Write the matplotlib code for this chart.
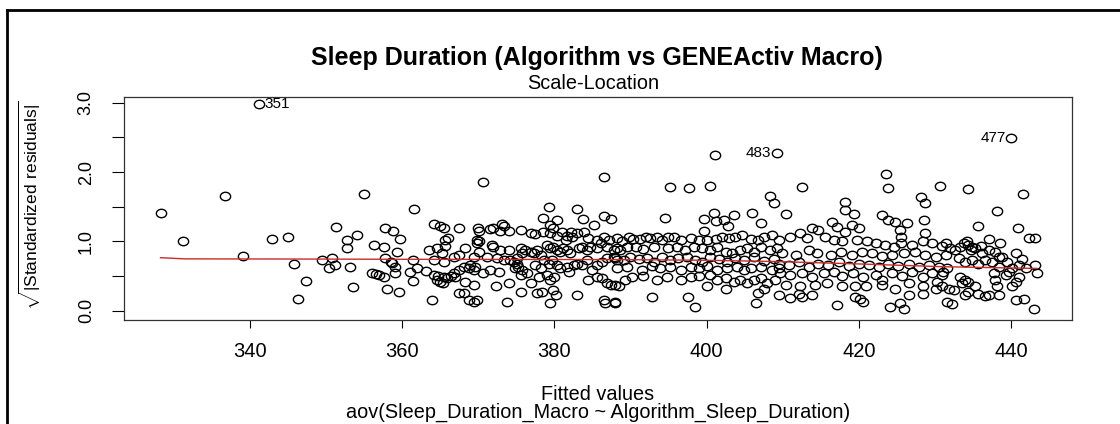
import matplotlib
matplotlib.use("Agg")
import matplotlib.pyplot as plt
from matplotlib.lines import Line2D
from matplotlib.path import Path
from matplotlib.transforms import Affine2D

plt.rcParams['font.family'] = ['Liberation Sans', 'DejaVu Sans']
plt.rcParams['mathtext.fontset'] = 'custom'
plt.rcParams['mathtext.rm'] = 'Liberation Sans'

# fitted values (x) and sqrt(|standardized residuals|) (y), same order
fitted = [
    328.3, 331.3, 336.8, 339.1, 341.2, 342.9, 345.1, 345.8, 347.4, 346.4, 349.5, 350.4, 350.8, 351.2, 351.3,
    352.8, 352.8, 354.1, 353.2, 353.6, 355.0, 356.3, 356.1, 356.6, 357.0, 357.6, 357.8, 358.8, 357.6, 357.8,
    358.5, 358.7, 358.0, 359.1, 359.4, 359.1, 359.6, 359.8,
    361.6, 361.5, 361.1, 361.5, 362.0, 363.1, 364.0, 364.2, 365.0, 365.5, 365.6, 366.1, 365.7, 363.5, 364.6,
    365.3, 364.2, 365.5, 366.8, 367.5, 367.5, 364.2, 364.8, 365.5, 364.6, 365.0, 365.4, 365.9, 366.4, 367.0,
    367.5, 367.5,
    370.6, 386.6, 379.3, 383.0, 378.5, 380.4, 379.4, 379.8, 383.8, 385.2, 386.6, 387.5,
    370.0, 370.1, 371.6, 372.0, 373.1, 373.4, 372.9, 374.1, 375.6, 376.9, 377.5, 378.5, 379.4, 380.4, 381.0,
    381.7, 382.2, 383.0, 383.9, 381.5, 382.3, 384.5, 385.6, 386.6, 387.2, 388.3,
    369.9, 370.1, 369.9, 371.8, 372.0, 368.3, 370.1, 369.4, 371.2, 372.9, 372.5, 373.4, 374.0, 375.6, 376.1,
    375.8, 376.9, 377.3, 377.8, 378.2, 379.1, 379.5, 379.9, 380.4, 380.8, 381.2, 381.7, 382.1, 383.2, 383.7,
    384.3, 384.7, 385.6, 386.1, 386.9, 387.8, 388.3,
    368.1, 368.8, 369.0, 369.4, 369.6, 366.8, 368.3, 369.4, 368.1, 368.8, 369.4, 369.9, 370.7, 371.6, 372.7,
    372.3, 374.0, 375.1, 374.9, 375.3, 375.8, 375.6, 376.4, 373.8, 375.6, 376.9, 377.5, 378.2, 378.6, 379.3,
    379.7, 380.4, 378.0, 379.1, 379.5, 380.0, 377.7, 378.4, 379.9, 380.2, 379.5, 380.8, 381.7, 381.9, 382.6,
    383.0, 383.0, 383.7, 384.3, 385.0, 385.6, 386.3, 384.5, 385.6, 386.3, 386.9, 387.4, 388.0, 386.5, 386.7,
    388.0, 386.9, 387.8, 388.3, 374.2, 374.7, 375.1,
    401.1, 395.2, 397.7, 400.4, 408.3, 408.9, 394.5,
    401.0, 403.6, 406.0, 399.7, 401.3, 402.3, 402.8, 399.7, 407.1,
    388.9, 389.8, 390.4, 391.3, 392.0, 392.6, 393.5, 394.1, 395.0, 395.7, 396.6, 397.9, 399.0, 400.1, 401.2,
    402.0, 402.9, 403.8, 404.7, 405.8, 406.7, 407.5, 408.6, 409.5,
    388.7, 389.6, 390.7, 391.7, 393.1, 395.0, 396.1, 397.2, 398.3, 399.4, 400.5, 401.4, 402.5, 403.4, 404.4,
    405.3, 406.2, 407.1, 408.4, 409.3,
    388.0, 389.1, 390.0, 391.1, 392.2, 393.1, 394.1, 395.2, 396.3, 397.4, 398.5, 399.4, 400.5, 401.6, 402.7,
    403.8, 404.9, 406.2, 407.5, 408.8,
    388.3, 389.6, 391.5, 392.8, 393.9, 395.2, 396.6, 397.9, 399.0, 400.1, 401.4, 402.7, 404.0, 404.9, 405.9,
    407.2, 408.6, 409.5,
    389.3, 390.2, 391.7, 393.5, 394.8, 396.6, 397.9, 399.0, 400.5, 401.4, 402.5, 403.6, 404.4, 405.3, 406.2,
    407.1, 407.9, 409.0,
    388.5, 400.1, 402.5, 406.7, 407.5,
    388.0, 392.8, 397.6, 398.5, 406.5,
    423.6, 423.9, 412.6, 430.7, 409.2, 410.4, 418.2, 418.2, 419.4, 428.2, 428.7, 428.6, 428.7, 423.1, 423.9,
    424.8, 426.3, 425.4, 425.6, 416.5, 417.2, 418.2, 420.0, 419.1,
    413.9, 414.7, 412.3, 411.0, 413.2, 415.6, 416.7, 417.8, 419.8, 421.1, 422.2, 423.5, 424.6, 425.5, 427.0,
    428.4, 429.6, 430.9,
    409.9, 411.7, 413.4, 414.5, 416.3, 417.6, 419.1, 420.4, 421.7, 423.1, 424.4, 425.9, 427.4, 428.7, 430.1,
    409.5, 410.8, 412.1, 413.4, 414.7, 416.0, 417.4, 418.7, 420.0, 421.3, 422.6, 423.9, 425.2, 426.6, 427.9,
    429.2, 430.5,
    409.7, 411.0, 412.6, 413.9, 415.4, 416.7, 417.8, 419.3, 420.6, 422.2, 423.1, 424.4, 425.7, 427.0, 428.4,
    429.6, 430.9,
    410.4, 412.3, 414.3, 415.8, 417.8, 419.5, 420.9, 423.1, 424.8, 426.6, 428.4, 430.1,
    409.5, 411.0, 412.1, 412.5, 413.9, 419.5, 420.2, 420.6, 426.6, 428.4,
    417.2, 424.1, 425.4, 426.0,
    434.4, 441.5, 438.2, 435.7, 440.9, 442.4, 443.1, 440.0,
    431.4, 432.0, 432.7, 433.3, 433.8, 434.2, 434.4, 434.9, 434.7, 435.3, 436.0, 437.1, 438.6, 436.2, 437.1,
    437.9, 438.8,
    431.4, 431.6, 431.1, 433.1, 434.0, 434.9, 435.7, 436.6, 437.5, 438.4, 439.5, 440.6, 441.4, 441.0, 440.1,
    441.9, 443.2, 443.4, 439.7, 438.4, 439.3,
    430.3, 430.9, 431.8, 432.5, 433.3, 434.0, 434.4, 433.6, 435.3, 434.4, 434.0, 435.7, 436.6, 437.1, 437.7,
    437.9, 438.2, 438.4, 440.1, 440.6, 441.0, 431.6, 432.3, 440.6, 441.7, 443.0,
]
sqrt_std_resid = [
    1.405, 1.00, 1.655, 0.79, 2.98, 1.03, 1.07, 0.67, 0.43, 0.17, 0.73, 0.61, 0.76, 0.66, 1.21,
    1.02, 0.90, 1.09, 0.635, 0.34, 1.68, 0.95, 0.54, 0.53, 0.515, 0.49, 1.20, 1.15, 0.92, 0.76,
    0.71, 0.69, 0.31, 0.54, 0.85, 0.635, 0.27, 1.03,
    1.47, 0.73, 0.56, 0.43, 0.61, 0.58, 0.15, 1.25, 1.22, 1.20, 1.02, 1.045, 0.94, 0.875, 0.90,
    0.83, 0.73, 0.71, 0.78, 0.80, 1.19, 0.515, 0.50, 0.49, 0.44, 0.42, 0.395, 0.47, 0.50, 0.49,
    0.59, 0.25,
    1.86, 1.925, 1.50, 1.47, 1.34, 1.31, 1.24, 1.20, 1.32, 1.24, 1.36, 1.33,
    1.19, 1.15, 1.18, 1.20, 1.25, 1.22, 1.15, 1.15, 1.17, 1.12, 1.10, 1.14, 1.125, 1.08, 1.14,
    1.08, 1.14, 1.12, 1.135, 1.02, 1.06, 1.045, 1.02, 1.06, 1.02, 1.045,
    1.02, 1.00, 0.97, 0.95, 0.92, 0.90, 0.85, 0.78, 0.78, 0.875, 0.76, 0.73, 0.875, 0.90, 0.875,
    0.83, 0.85, 0.83, 0.875, 0.80, 0.95, 0.90, 0.92, 0.875, 0.85, 0.90, 0.875, 0.83, 0.90, 0.92,
    0.875, 0.92, 0.90, 0.98, 0.92, 0.875, 0.90,
    0.635, 0.61, 0.66, 0.59, 0.635, 0.54, 0.42, 0.37, 0.25, 0.155, 0.13, 0.155, 0.54, 0.59, 0.56,
    0.35, 0.395, 0.68, 0.61, 0.635, 0.59, 0.515, 0.54, 0.13, 0.27, 0.395, 0.66, 0.61, 0.73, 0.68,
    0.73, 0.66, 0.49, 0.515, 0.44, 0.49, 0.25, 0.27, 0.30, 0.227, 0.107, 0.61, 0.635, 0.56, 0.66,
    0.68, 0.227, 0.66, 0.73, 0.59, 0.66, 0.71, 0.44, 0.49, 0.47, 0.395, 0.37, 0.37, 0.155, 0.107,
    0.13, 0.76, 0.78, 0.73, 0.73, 0.71, 0.76,
    2.24, 1.78, 1.77, 1.80, 1.655, 1.56, 1.34,
    1.405, 1.38, 1.405, 1.33, 1.30, 1.31, 1.22, 1.155, 1.26,
    1.01, 1.07, 1.03, 1.03, 1.07, 1.045, 1.07, 1.02, 1.07, 1.06, 1.02, 1.045, 1.02, 1.02, 1.03,
    1.07, 1.045, 1.07, 1.09, 1.03, 1.02, 1.07, 1.09, 1.02,
    0.875, 0.915, 0.92, 0.886, 0.915, 0.90, 0.92, 0.875, 0.92, 0.90, 0.875, 0.915, 0.85, 0.83, 0.875,
    0.90, 0.85, 0.92, 0.875, 0.90,
    0.756, 0.73, 0.78, 0.74, 0.756, 0.71, 0.77, 0.73, 0.756, 0.78, 0.73, 0.71, 0.78, 0.74, 0.71,
    0.756, 0.73, 0.77, 0.72, 0.74,
    0.61, 0.635, 0.59, 0.645, 0.61, 0.626, 0.59, 0.635, 0.61, 0.645, 0.59, 0.61, 0.635, 0.59, 0.61,
    0.635, 0.59, 0.61,
    0.44, 0.49, 0.50, 0.45, 0.49, 0.44, 0.48, 0.50, 0.515, 0.44, 0.47, 0.42, 0.45, 0.395, 0.44,
    0.47, 0.40, 0.44,
    0.357, 0.35, 0.32, 0.25, 0.32,
    0.115, 0.20, 0.20, 0.058, 0.115,
    1.97, 1.77, 1.79, 1.80, 2.28, 1.395, 1.565, 1.45, 1.395, 1.645, 1.55, 1.31, 1.12, 1.38, 1.31,
    1.285, 1.26, 1.165, 1.07, 1.285, 1.21, 1.14, 1.19, 1.24,
    1.19, 1.165, 1.12, 1.07, 1.045, 1.07, 1.02, 1.00, 1.02, 1.00, 0.97, 0.95, 0.92, 0.97, 0.95,
    1.00, 0.97, 0.935,
    0.83, 0.80, 0.875, 0.83, 0.80, 0.85, 0.80, 0.85, 0.83, 0.79, 0.80, 0.83, 0.85, 0.80, 0.78,
    0.68, 0.66, 0.71, 0.635, 0.68, 0.66, 0.71, 0.645, 0.68, 0.66, 0.635, 0.674, 0.645, 0.68, 0.635,
    0.66, 0.635,
    0.54, 0.515, 0.55, 0.49, 0.54, 0.56, 0.50, 0.54, 0.49, 0.515, 0.44, 0.54, 0.50, 0.56, 0.49,
    0.54, 0.515,
    0.37, 0.35, 0.37, 0.395, 0.357, 0.35, 0.357, 0.37, 0.32, 0.395, 0.35, 0.32,
    0.227, 0.18, 0.24, 0.20, 0.227, 0.20, 0.165, 0.13, 0.227, 0.24,
    0.08, 0.05, 0.107, 0.02,
    1.75, 1.69, 1.44, 1.22, 1.20, 1.05, 1.045, 2.49,
    0.97, 0.90, 0.875, 0.92, 0.97, 1.00, 0.95, 0.92, 0.875, 0.90, 0.935, 1.03, 0.98, 0.83, 0.875,
    0.85, 0.78,
    0.80, 0.61, 0.56, 0.756, 0.71, 0.73, 0.68, 0.73, 0.71, 0.78, 0.71, 0.83, 0.74, 0.66, 0.61,
    0.61, 0.66, 0.54, 0.56, 0.635, 0.515,
    0.42, 0.35, 0.32, 0.30, 0.49, 0.44, 0.42, 0.395, 0.35, 0.27, 0.227, 0.24, 0.212, 0.227, 0.54,
    0.44, 0.35, 0.227, 0.35, 0.42, 0.49, 0.13, 0.097, 0.155, 0.165, 0.02,
]

# smoother (red line)
smooth_x = [328.3, 331.5, 345.0, 360.0, 375.0, 388.0, 400.0, 409.0, 420.0, 431.0, 443.4]
smooth_y = [0.765, 0.748, 0.746, 0.742, 0.740, 0.738, 0.728, 0.710, 0.675, 0.635, 0.610]

# labelled observations
id_text = ["351", "483", "477"]
id_x = [341.2, 409.2, 440.0]
id_y = [2.98, 2.28, 2.49]
id_side = ["right", "left", "left"]

W, H = 1120, 424
fig = plt.figure(figsize=(W / 100, H / 100), dpi=100)
ax = fig.add_axes([124 / W, 1 - 320 / H, (1072 - 124) / W, (320 - 97) / H])

# the source picture is stretched sideways, so the circles are slightly wide ellipses
ring = Path.unit_circle().transformed(Affine2D().scale(1.0, 0.82))
ax.plot(fitted, sqrt_std_resid, linestyle='none', marker=ring, mfc='none', mec='black', ms=7.4, mew=1.0)
ax.plot(smooth_x, smooth_y, color='#cc2a2a', lw=1.0)

for t, x, y, side in zip(id_text, id_x, id_y, id_side):
    if side == "right":
        ax.annotate(t, (x, y), xytext=(4, 0), textcoords='offset points', ha='left', va='center', fontsize=11)
    else:
        ax.annotate(t, (x, y), xytext=(-4, 0), textcoords='offset points', ha='right', va='center', fontsize=11)

ax.set_xlim(323.5, 448.0)
ax.set_ylim(-0.134, 3.084)
ax.set_xticks([340, 360, 380, 400, 420, 440])
ax.set_yticks([0, 0.5, 1.0, 1.5, 2.0, 2.5, 3.0])
ax.set_yticklabels(['0.0', '', '1.0', '', '2.0', '', '3.0'], rotation=90, va='center')
ax.tick_params(axis='x', direction='out', length=6, width=0.8, pad=10, labelsize=14.5)
ax.tick_params(axis='y', direction='out', length=9, width=0.8, pad=12, labelsize=13)
for s in ax.spines.values():
    s.set_linewidth(0.9)
    s.set_color('#333333')

fig.text(597 / W, 1 - 65 / H, "Sleep Duration (Algorithm vs GENEActiv Macro)", ha='center', va='baseline',
         fontsize=18, fontweight='bold')
fig.text(593 / W, 1 - 89 / H, "Scale-Location", ha='center', va='baseline', fontsize=14.3)
fig.text(598 / W, 1 - 400 / H, "Fitted values", ha='center', va='baseline', fontsize=14.3)
fig.text(598 / W, 1 - 418 / H, "aov(Sleep_Duration_Macro ~ Algorithm_Sleep_Duration)", ha='center',
         va='baseline', fontsize=14.3)
fig.text(30 / W, 1 - 205 / H, r'$\sqrt{|\mathrm{Standardized\ residuals}|}$', rotation=90, ha='center',
         va='center', fontsize=12.5)

# outer frame (left and top edges)
fig.add_artist(Line2D([7 / W, 7 / W], [0, 1 - 10 / H], color='black', lw=2))
fig.add_artist(Line2D([7 / W, 1], [1 - 10 / H, 1 - 10 / H], color='black', lw=2))

fig.savefig("out.png", dpi=100)
